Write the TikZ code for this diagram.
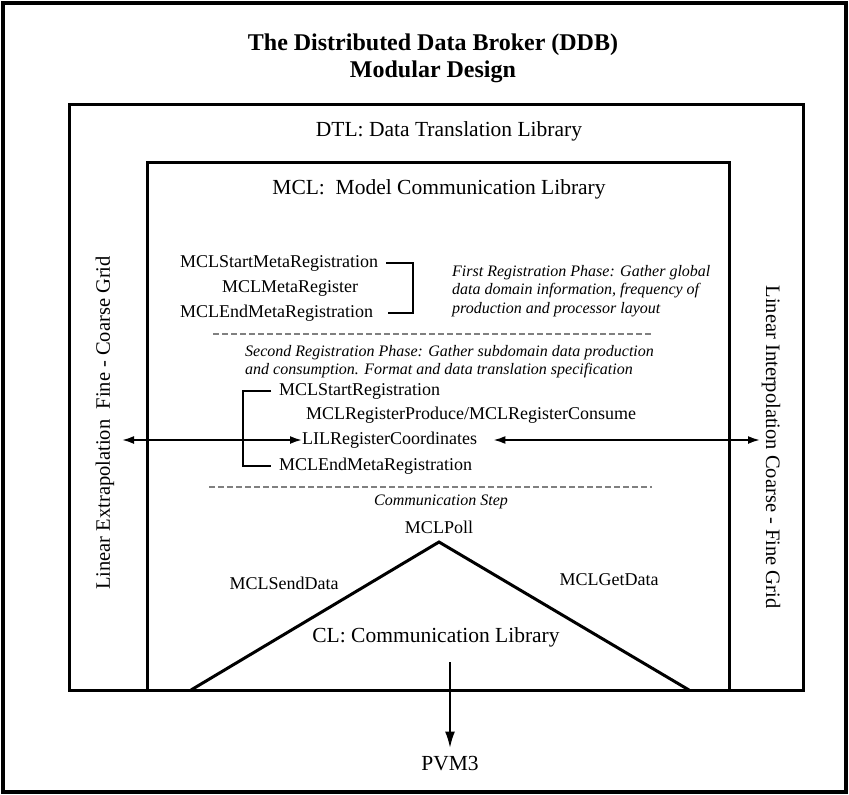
\documentclass[tikz,border=0pt]{standalone}
\usepackage{fontspec}
\setmainfont{Liberation Serif}
\usetikzlibrary{arrows.meta}

\begin{document}
\begin{tikzpicture}[x=1pt, y=-1pt, >={Latex[length=12pt,width=8pt]},
		frame/.style={line width=3pt},
		heading/.style={font=\fontsize{24}{27}\selectfont\bfseries, align=center, inner sep=0pt},
		libtext/.style={font=\fontsize{21.5}{24}\selectfont, inner sep=0pt},
		func/.style={font=\fontsize{18}{20}\selectfont, inner sep=0pt},
		phase/.style={font=\fontsize{16}{18.5}\selectfont\itshape, align=left, inner sep=0pt},
		sidetext/.style={font=\fontsize{20.5}{24}\selectfont, inner sep=0pt},
		dashline/.style={dash pattern=on 6pt off 3pt, line width=1.5pt, gray}]
		    \useasboundingbox (0,0) rectangle (849,795);
		    \begin{scope}
					\draw[line width=3.5pt] (3,3) rectangle (846,792); % cornice
					\draw[frame] (69,104) rectangle (803,690); % DTL
					\draw[frame] (147,162) rectangle (729,690); % MCL

					\node[heading] (title) at (433,58) {The Distributed Data Broker (DDB)\\Modular Design};
					\node[libtext] (dtl) at (449,131) {DTL: Data Translation Library};
					\node[libtext] (mcl) at (439,189) {MCL:\ \ Model Communication Library};

					\node[sidetext, rotate=90] (extrap) at (105,423) {Linear Extrapolation\ \ Fine - Coarse Grid};
					\node[sidetext, rotate=-90] (interp) at (771,447) {Linear Interpolation Coarse - Fine Grid};

					% prima fase
					\node[func, anchor=west] (startmeta) at (180,263) {MCLStartMetaRegistration};
					\node[func, anchor=west] (metareg) at (222,288) {MCLMetaRegister};
					\node[func, anchor=west] (endmeta) at (180,313) {MCLEndMetaRegistration};
					\coordinate (b1top) at (413,263);
					\coordinate (b1bot) at (413,313);
					\draw[line width=2pt] ([xshift=8pt]startmeta.east) -- (b1top) -- (b1bot) -- ([xshift=15pt]endmeta.east);
					\node[phase, anchor=north west] (first) at (452,265) {First Registration Phase: Gather global\\data domain information, frequency of\\production and processor layout};

					\coordinate (d1a) at (213,334);
					\coordinate (d1b) at (652,334);
					\draw[dashline] (d1a) -- (d1b);

					% seconda fase
					\node[phase, anchor=north west] (second) at (245,345) {Second Registration Phase: Gather subdomain data production\\and consumption. Format and data translation specification};
					\node[func, anchor=west] (startreg) at (279,391) {MCLStartRegistration};
					\node[func, anchor=west] (produce) at (306,415) {MCLRegisterProduce/MCLRegisterConsume};
					\node[func, anchor=west] (lil) at (302,440) {LILRegisterCoordinates};
					\node[func, anchor=west] (endreg) at (279,466) {MCLEndMetaRegistration};
					\coordinate (b2top) at (243,391);
					\coordinate (b2bot) at (243,466);
					\draw[line width=2pt] ([xshift=-8pt]startreg.west) -- (b2top) -- (b2bot) -- ([xshift=-8pt]endreg.west);

					\coordinate (sx) at (122,440);
					\coordinate (dx) at (760,440);
					\draw[<->, line width=2pt] (sx) -- (lil.west); % verso sinistra
					\draw[<->, line width=2pt] ([xshift=16pt]lil.east) -- (dx); % verso destra

					\coordinate (d2a) at (209,487);
					\coordinate (d2b) at (652,487);
					\draw[dashline] (d2a) -- (d2b);
					\node[phase] (step) at (441,502) {Communication Step};

					% CL
					\node[func] (poll) at (439,527) {MCLPoll};
					\coordinate (apex) at (439,542);
					\coordinate (baseL) at (191,690);
					\coordinate (baseR) at (689,690);
					\draw[line width=3pt, line join=miter] (baseL) -- (apex) -- (baseR);
					\node[func] (send) at (284,583) {MCLSendData};
					\node[func] (get) at (609,580) {MCLGetData};
					\node[libtext] (cl) at (436,637) {CL: Communication Library};

					\node[libtext] (pvm) at (450,764) {PVM3};
					\coordinate (clout) at (450,662);
					\draw[-{Latex[length=17pt,width=10pt]}, line width=2.5pt, shorten >=8pt] (clout) -- (pvm.north); % da CL a PVM3
		    \end{scope}
		  \end{tikzpicture}
\end{document}
